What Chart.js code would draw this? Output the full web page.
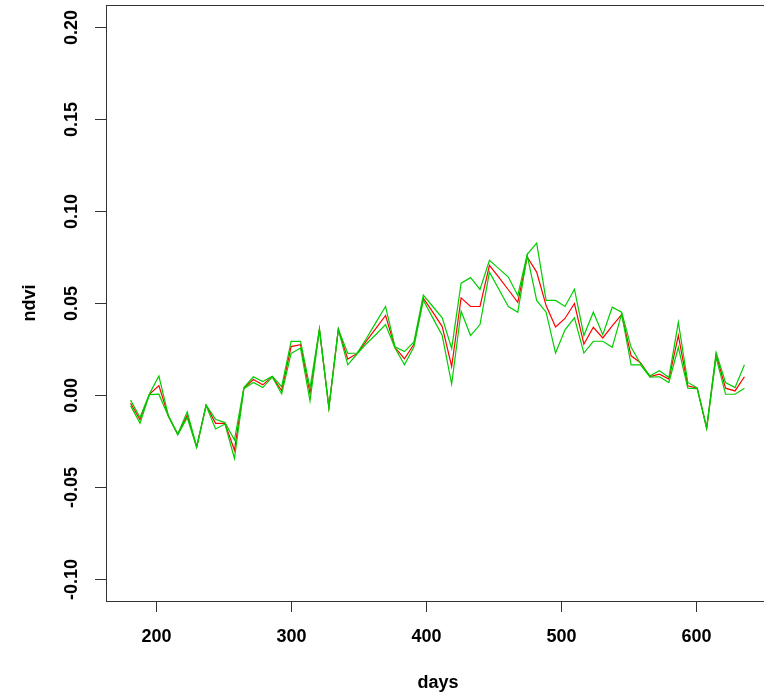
<!DOCTYPE html>
<html>
<head>
<meta charset="utf-8">
<script src="https://cdn.jsdelivr.net/npm/chart.js@4"></script>
<style>
  html, body { margin: 0; padding: 0; background: #fff; overflow: hidden; }
  canvas { display: block; }
</style>
</head>
<body>
<canvas id="ndviChart" width="770" height="697"></canvas>
<script>
// observation days (7 day steps)
const days = [181, 188, 195, 202, 209, 216, 223, 230, 237, 244, 251, 258, 265, 272, 279, 286,
  293, 300, 307, 314, 321, 328, 335, 342, 349, 356, 363, 370, 377, 384, 391, 398, 405, 412,
  419, 426, 433, 440, 447, 454, 461, 468, 475, 482, 489, 496, 503, 510, 517, 524, 531, 538,
  545, 552, 559, 566, 573, 580, 587, 594, 601, 608, 615, 622, 629, 636];

// mean ndvi (red)
const ndviMean = [-0.0045, -0.0134, 0.0004, 0.0051, -0.0114, -0.0214, -0.0110, -0.0283, -0.0056,
  -0.0154, -0.0154, -0.0300, 0.0037, 0.0084, 0.0055, 0.0100, 0.0024, 0.0263, 0.0273, 0.0008,
  0.0357, -0.0069, 0.0357, 0.0195, 0.0226, 0.0295, 0.0363, 0.0432, 0.0258, 0.0197, 0.0275,
  0.0526, 0.0450, 0.0372, 0.0155, 0.0528, 0.0481, 0.0481, 0.0705, 0.0639, 0.0572, 0.0504,
  0.0750, 0.0668, 0.0486, 0.0370, 0.0416, 0.0497, 0.0277, 0.0368, 0.0310, 0.0376, 0.0437,
  0.0213, 0.0175, 0.0100, 0.0113, 0.0086, 0.0323, 0.0050, 0.0037, -0.0180, 0.0219, 0.0037,
  0.0022, 0.0099];

// upper and lower bands (green)
const ndviUpper = [-0.0028, -0.0122, 0.0006, 0.0103, -0.0112, -0.0212, -0.0091, -0.0281, -0.0054,
  -0.0132, -0.0150, -0.0245, 0.0040, 0.0099, 0.0073, 0.0102, 0.0045, 0.0291, 0.0291, 0.0037,
  0.0359, -0.0067, 0.0359, 0.0226, 0.0228, 0.0310, 0.0396, 0.0481, 0.0262, 0.0236, 0.0288,
  0.0543, 0.0481, 0.0419, 0.0253, 0.0608, 0.0638, 0.0574, 0.0732, 0.0687, 0.0641, 0.0541,
  0.0765, 0.0826, 0.0514, 0.0514, 0.0481, 0.0575, 0.0323, 0.0450, 0.0328, 0.0477, 0.0450,
  0.0259, 0.0170, 0.0104, 0.0132, 0.0095, 0.0395, 0.0068, 0.0039, -0.0178, 0.0231, 0.0068,
  0.0040, 0.0164];

const ndviLower = [-0.0058, -0.0153, 0.0002, 0.0004, -0.0116, -0.0216, -0.0123, -0.0285, -0.0058,
  -0.0185, -0.0158, -0.0345, 0.0034, 0.0068, 0.0040, 0.0098, 0.0006, 0.0226, 0.0255, -0.0032,
  0.0355, -0.0071, 0.0355, 0.0164, 0.0224, 0.0280, 0.0330, 0.0383, 0.0255, 0.0164, 0.0261,
  0.0515, 0.0419, 0.0323, 0.0059, 0.0455, 0.0323, 0.0383, 0.0668, 0.0575, 0.0481, 0.0450,
  0.0759, 0.0514, 0.0450, 0.0228, 0.0354, 0.0419, 0.0228, 0.0292, 0.0292, 0.0259, 0.0441,
  0.0164, 0.0164, 0.0097, 0.0099, 0.0068, 0.0259, 0.0037, 0.0035, -0.0182, 0.0204, 0.0004,
  0.0004, 0.0037];

const xTicks = [200, 300, 400, 500, 600];
const yTicks = [-0.10, -0.05, 0.00, 0.05, 0.10, 0.15, 0.20];

const toPoints = vals => vals.map((v, i) => ({ x: days[i], y: v }));

const labelFont = "bold 18px 'Liberation Sans', Arial, sans-serif";

// R-style box, ticks and labels
const rAxes = {
  id: 'rAxes',
  afterDraw(chart) {
    const c = chart.ctx;
    const a = chart.chartArea;
    const xs = chart.scales.x;
    const ys = chart.scales.y;
    c.save();
    c.strokeStyle = '#333';
    c.lineWidth = 1;
    c.strokeRect(Math.round(a.left) + 0.5, Math.round(a.top) + 0.5,
      Math.round(a.right - a.left), Math.round(a.bottom - a.top));

    c.fillStyle = '#000';
    c.font = labelFont;

    // x ticks
    c.textAlign = 'center';
    c.textBaseline = 'middle';
    xTicks.forEach(t => {
      const px = Math.round(xs.getPixelForValue(t)) + 0.5;
      c.beginPath();
      c.moveTo(px, a.bottom);
      c.lineTo(px, a.bottom + 11);
      c.stroke();
      c.fillText(String(t), px, a.bottom + 36);
    });

    // y ticks, labels turned like R's las=0
    yTicks.forEach(t => {
      const py = Math.round(ys.getPixelForValue(t)) + 0.5;
      c.beginPath();
      c.moveTo(a.left - 11, py);
      c.lineTo(a.left, py);
      c.stroke();
      c.save();
      c.translate(a.left - 34, py);
      c.rotate(-Math.PI / 2);
      c.fillText(t.toFixed(2), 0, 0);
      c.restore();
    });

    // axis titles
    c.fillText('days', 438, 683);
    c.save();
    c.translate(30, (a.top + a.bottom) / 2);
    c.rotate(-Math.PI / 2);
    c.fillText('ndvi', 0, 0);
    c.restore();
    c.restore();
  }
};

new Chart(document.getElementById('ndviChart'), {
  type: 'line',
  data: {
    datasets: [
      { label: 'mean', data: toPoints(ndviMean), borderColor: '#ff0000', order: 2 },
      { label: 'upper', data: toPoints(ndviUpper), borderColor: '#00cd00', order: 1 },
      { label: 'lower', data: toPoints(ndviLower), borderColor: '#00cd00', order: 1 }
    ]
  },
  options: {
    responsive: false,
    animation: false,
    devicePixelRatio: 1,
    layout: { padding: { left: 106, top: 5, right: 1, bottom: 96 } },
    elements: {
      line: { borderWidth: 1.2, tension: 0, fill: false },
      point: { radius: 0 }
    },
    plugins: { legend: { display: false }, tooltip: { enabled: false } },
    scales: {
      x: { type: 'linear', min: 162.8, max: 654.2, display: false },
      y: { type: 'linear', min: -0.112, max: 0.212, display: false }
    }
  },
  plugins: [rAxes]
});
</script>
</body>
</html>
